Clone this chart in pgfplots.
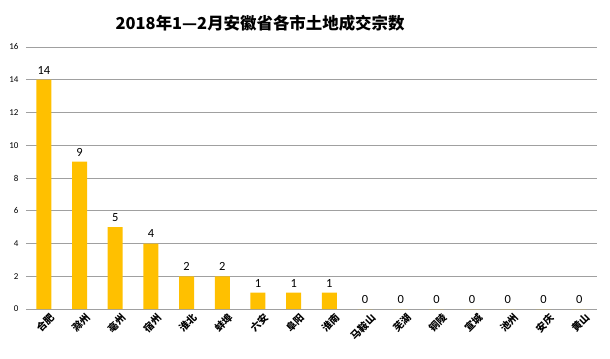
\documentclass[border=0pt]{standalone}
\usepackage{pgfplots}
\pgfplotsset{compat=1.18}
\usepackage{fontspec}
\setmainfont{Carlito}
\newfontfamily\cjk{Noto Sans CJK SC}
\definecolor{barcol}{RGB}{255,192,0}
\definecolor{gridgray}{RGB}{160,160,160}
\begin{document}
\begin{tikzpicture}
\useasboundingbox (-26bp,-50bp) rectangle (584bp,309bp);
\begin{axis}[
  scale only axis, width=571bp, height=262bp,
  at={(0,0)}, anchor=south west,
  xmin=-0.5, xmax=15.5, ymin=0, ymax=16,
  ytick={0,2,...,16},
  xtick={0,...,15},
  xticklabels={合肥,滁州,亳州,宿州,淮北,蚌埠,六安,阜阳,淮南,马鞍山,芜湖,铜陵,宣城,池州,安庆,黄山},
  x tick label style={font=\cjk\bfseries\fontsize{10}{10}\selectfont, rotate=45, anchor=north east, inner sep=1pt, yshift=-5bp, xshift=2bp},
  y tick label style={font=\fontsize{9}{9}\selectfont, xshift=-4bp},
  /pgf/number format/assume math mode=true,
  major tick length=0pt,
  axis line style={draw=none},
  xmajorgrids=false,
  ymajorgrids=true, grid style={draw=gridgray, line width=0.8pt},
  title={\cjk\bfseries\fontsize{16.5}{17}\selectfont 2018年1—2月安徽省各市土地成交宗数},
  title style={at={(0.41,1.068)}, anchor=center},
  nodes near coords,
  nodes near coords style={font=\fontsize{12.5}{12.5}\selectfont, text=black, yshift=2bp},
]
\addplot[ybar, bar width=15bp, fill=barcol, draw=none] coordinates {
(0,14) (1,9) (2,5) (3,4) (4,2) (5,2) (6,1) (7,1) (8,1)
(9,0) (10,0) (11,0) (12,0) (13,0) (14,0) (15,0)};
\end{axis}
\end{tikzpicture}
\end{document}
